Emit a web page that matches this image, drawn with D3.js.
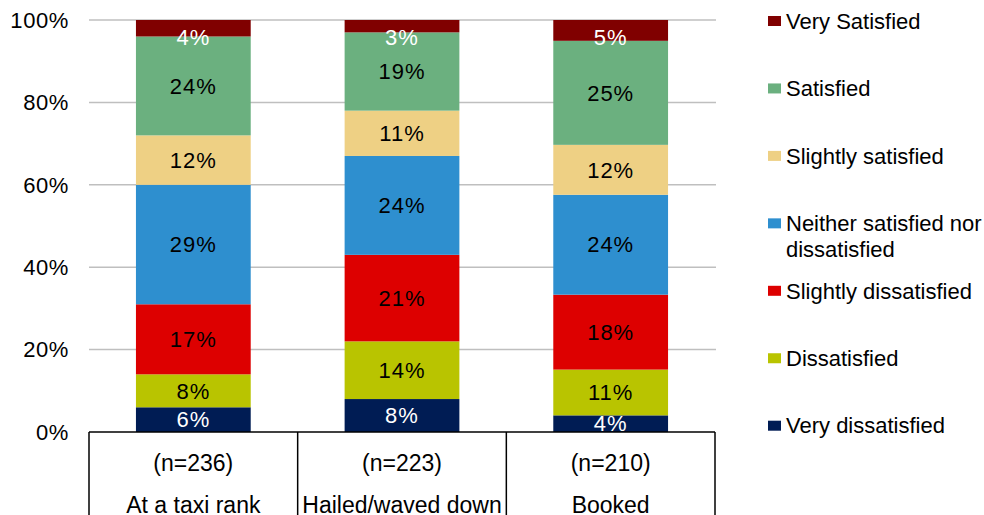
<!DOCTYPE html>
<html>
<head>
<meta charset="utf-8">
<script src="https://cdn.jsdelivr.net/npm/d3@7"></script>
<style>
  html, body { margin: 0; padding: 0; background: #fff; }
  svg { display: block; font-family: "Liberation Sans", Arial, sans-serif; }
</style>
</head>
<body>
<svg id="chart" width="984" height="515"></svg>
<script>
// Journey type categories and their sample sizes
const categories = ["At a taxi rank", "Hailed/waved down", "Booked"];
const sampleSizes = ["(n=236)", "(n=223)", "(n=210)"];

// Satisfaction levels, bottom of the stack first
const levels = [
  "Very dissatisfied",
  "Dissatisfied",
  "Slightly dissatisfied",
  "Neither satisfied nor dissatisfied",
  "Slightly satisfied",
  "Satisfied",
  "Very Satisfied"
];

// Percentages per level, one value per category
const veryDissatisfied     = [6, 8, 4];
const dissatisfied         = [8, 14, 11];
const slightlyDissatisfied = [17, 21, 18];
const neither              = [29, 24, 24];
const slightlySatisfied    = [12, 11, 12];
const satisfied            = [24, 19, 25];
const verySatisfied        = [4, 3, 5];

const levelColors = ["#001c54", "#b9c400", "#dd0000", "#2e8fcf", "#eed084", "#6bb07f", "#800000"];
const labelColors = ["#ffffff", "#000000", "#000000", "#000000", "#000000", "#000000", "#ffffff"];

const tickValues = [0, 0.2, 0.4, 0.6, 0.8, 1.0];
const tickLabels = ["0%", "20%", "40%", "60%", "80%", "100%"];

// Build rows for the stack layout
const seriesValues = [veryDissatisfied, dissatisfied, slightlyDissatisfied, neither, slightlySatisfied, satisfied, verySatisfied];
const rows = categories.map((c, i) => {
  const r = { category: c };
  levels.forEach((l, j) => { r[l] = seriesValues[j][i]; });
  return r;
});

const stacked = d3.stack().keys(levels).offset(d3.stackOffsetExpand)(rows);

const svg = d3.select("#chart");
const plotLeft = 89, plotRight = 715, plotTop = 20, plotBottom = 432;

const x = d3.scaleBand().domain(categories).range([plotLeft, plotRight])
  .paddingInner(0.45).paddingOuter(0.225);
const y = d3.scaleLinear().domain([0, 1]).range([plotBottom, plotTop]);

// Gridlines
svg.append("g").selectAll("line")
  .data(tickValues.filter(t => t > 0))
  .join("line")
  .attr("x1", plotLeft).attr("x2", plotRight + 1)
  .attr("y1", d => y(d)).attr("y2", d => y(d))
  .attr("stroke", "#bfbfbf").attr("stroke-width", 1.5);

// Y axis tick labels
svg.append("g").selectAll("text")
  .data(tickValues)
  .join("text")
  .attr("x", 69).attr("y", d => y(d)).attr("dy", "0.35em")
  .attr("text-anchor", "end")
  .attr("font-size", 22).attr("letter-spacing", 0.6)
  .attr("fill", "#000")
  .text((d, i) => tickLabels[i]);

// Stacked bars
const layers = svg.append("g").selectAll("g")
  .data(stacked)
  .join("g")
  .attr("fill", (d, i) => levelColors[i]);

layers.selectAll("rect")
  .data(d => d)
  .join("rect")
  .attr("x", d => x(d.data.category))
  .attr("width", x.bandwidth())
  .attr("y", d => y(d[1]))
  .attr("height", d => y(d[0]) - y(d[1]));

// Value labels, kept inside the plot area at the top
const labelsG = svg.append("g");
stacked.forEach((layer, li) => {
  labelsG.selectAll(null)
    .data(layer)
    .join("text")
    .attr("x", d => x(d.data.category) + x.bandwidth() / 2)
    .attr("y", d => Math.max(plotTop + 17, (y(d[0]) + y(d[1])) / 2))
    .attr("dy", "0.35em")
    .attr("text-anchor", "middle")
    .attr("font-size", 22).attr("letter-spacing", 1)
    .attr("fill", labelColors[li])
    .text(d => d.data[layer.key] + "%");
});

// Category table under the axis
const table = svg.append("g");
table.append("rect")
  .attr("x", plotLeft).attr("y", plotBottom)
  .attr("width", plotRight - plotLeft).attr("height", 515 - plotBottom)
  .attr("fill", "#fff");
table.append("line")
  .attr("x1", plotLeft).attr("x2", plotRight)
  .attr("y1", plotBottom).attr("y2", plotBottom)
  .attr("stroke", "#000").attr("stroke-width", 1.5);
table.selectAll("line.div")
  .data(d3.range(categories.length + 1))
  .join("line")
  .attr("class", "div")
  .attr("x1", i => plotLeft + i * x.step()).attr("x2", i => plotLeft + i * x.step())
  .attr("y1", plotBottom).attr("y2", 520)
  .attr("stroke", "#000").attr("stroke-width", 1.5);
table.selectAll("text.n")
  .data(categories)
  .join("text")
  .attr("class", "n")
  .attr("x", d => x(d) + x.bandwidth() / 2)
  .attr("y", 471)
  .attr("text-anchor", "middle")
  .attr("font-size", 23)
  .text((d, i) => sampleSizes[i]);
table.selectAll("text.cat")
  .data(categories)
  .join("text")
  .attr("class", "cat")
  .attr("x", d => x(d) + x.bandwidth() / 2)
  .attr("y", 513)
  .attr("text-anchor", "middle")
  .attr("font-size", 23)
  .text(d => d);

// Legend, top level first
const legendOrder = levels.map((l, i) => i).reverse();
const legend = svg.append("g");
const legendTop = 21, legendStep = 67.45, legendMaxWidth = 196;
legendOrder.forEach((li, k) => {
  const cy = legendTop + k * legendStep;
  legend.append("rect")
    .attr("x", 768).attr("y", cy - 5)
    .attr("width", 13).attr("height", 10)
    .attr("fill", levelColors[li]);
  const t = legend.append("text")
    .attr("x", 786).attr("y", cy)
    .attr("font-size", 22).attr("fill", "#000");
  // wrap long names onto extra lines
  const words = levels[li].split(" ");
  let line = [];
  let tspan = t.append("tspan").attr("x", 786).attr("dy", "0.35em");
  words.forEach(w => {
    line.push(w);
    tspan.text(line.join(" "));
    if (tspan.node().getComputedTextLength() > legendMaxWidth && line.length > 1) {
      line.pop();
      tspan.text(line.join(" "));
      line = [w];
      tspan = t.append("tspan").attr("x", 786).attr("dy", "1.2em").text(w);
    }
  });
});
</script>
</body>
</html>
